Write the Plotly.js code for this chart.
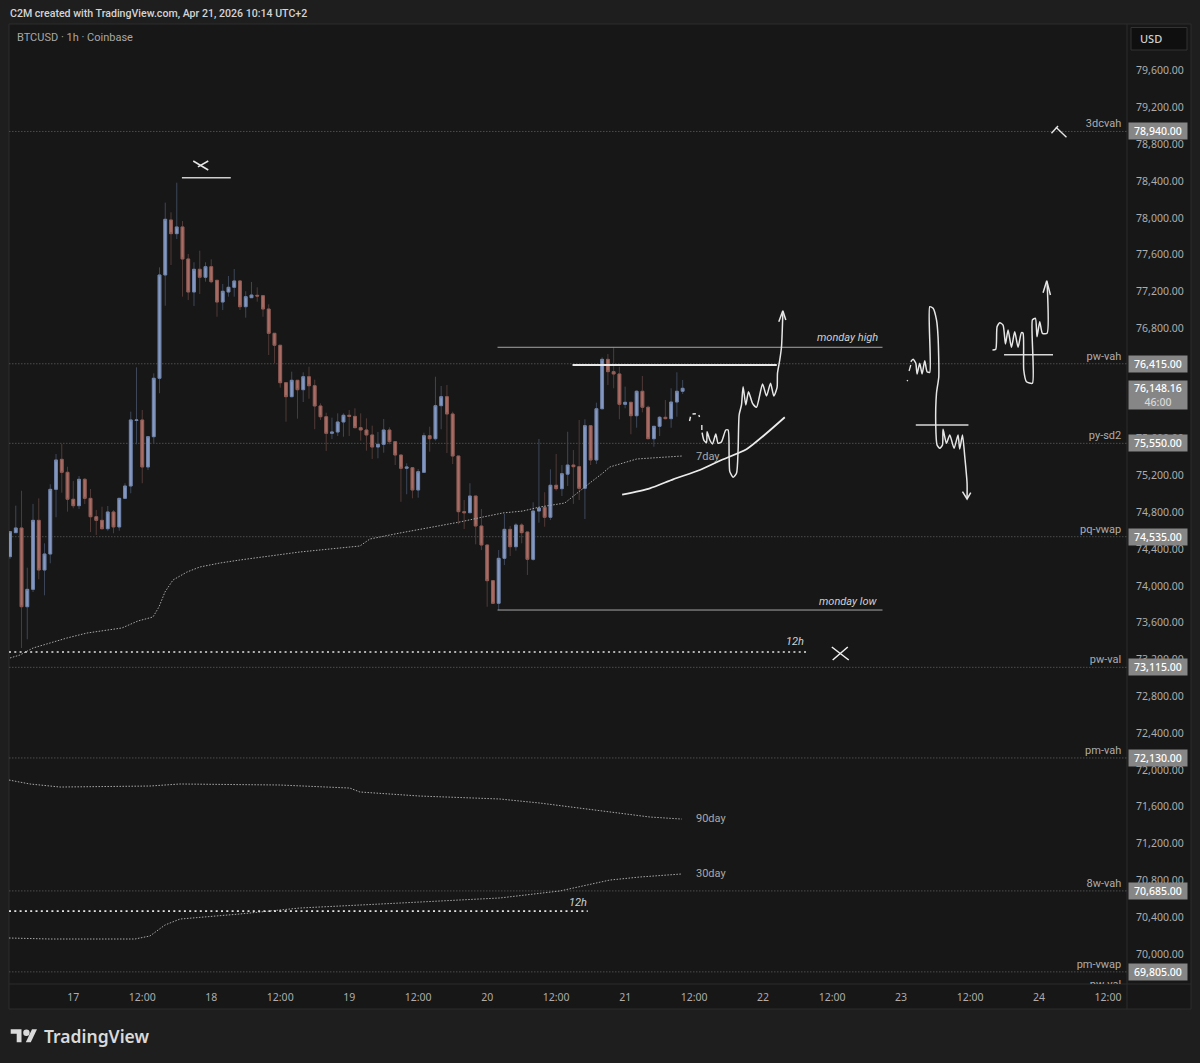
<!DOCTYPE html>
<html>
<head>
<meta charset="utf-8">
<script src="https://cdn.plot.ly/plotly-3.0.1.min.js"></script>
<style>html,body{margin:0;padding:0;background:#1e1e1e;overflow:hidden}#chart{width:1200px;height:1063px}</style>
</head>
<body>
<div id="chart"></div>
<script>
// ---------- candles (hourly, BTCUSD) ----------
const firstCandleHour = -11; // hours from Apr 17 00:00
const opens = [74318,74579,74630,73774,73963,74713,74173,74347,75050,75376,75235,74942,74872,75159,74952,74752,74713,74622,74804,74641,74952,75086,75798,75804,75293,75622,76257,77380,77978,77829,77902,77554,77195,77442,77355,77470,77322,77086,77195,77246,77315,77035,77133,77159,77155,77010,76746,76616,76209,76057,76235,76133,76274,76176,75956,75839,75659,75673,75782,75855,75843,75720,75695,75641,75510,75539,75695,75568,75423,75279,75285,75043,75235,75633,75600,75959,76057,75869,75412,74807,74796,74977,74651,74445,74057,73811,74300,74615,74426,74662,74586,74289,74814,74855,74746,75094,75057,75215,75314,75296,75061,75742,75369,75926,76463,76329,76304,75974,75996,75850,76116,75942,75600,75735,75833,75818,75999,76116];
const highs = [74590,74872,75035,74198,74891,74952,74463,75105,75434,75543,75296,75141,75195,75173,75054,74825,74861,74869,74825,74952,75116,75894,76376,75912,75630,76311,77463,78166,78061,78383,77967,77608,77518,77644,77518,77550,77322,77282,77369,77445,77325,77203,77304,77246,77155,77061,76746,76616,76209,76329,76235,76322,76383,76242,75985,75883,75829,75876,75876,75912,75931,75876,75822,75742,75673,75814,75724,75568,75423,75333,75290,75271,75666,75731,76274,76173,76184,75894,75412,74934,75116,74977,74836,74445,74057,74390,74782,74651,74681,74681,74586,74909,75597,75018,75268,75434,75314,75676,75477,75804,75811,75742,75992,76485,76521,76594,76383,76166,75996,76125,76282,75959,75735,75847,76021,76148,76322,76238];
const lows = [74293,74579,73325,73420,73934,74072,73898,74246,74746,75013,74807,74844,74836,74891,74586,74554,74615,74600,74572,74600,74945,75007,75539,75116,75260,75550,76094,77046,77488,77771,77144,77108,77043,77173,77307,77290,76926,76999,77144,77144,76999,76916,77133,77090,76926,76510,76420,76155,75785,76050,75818,75999,76035,75703,75804,75467,75597,75630,75622,75630,75715,75579,75470,75380,75387,75448,75539,75314,74915,74996,74952,74959,75230,75459,75579,75703,75445,75325,74670,74619,74790,74452,74390,73774,73811,73738,74227,74325,74383,74463,74119,74274,74687,74644,74717,75035,74977,75086,74891,74934,74727,75314,75325,75920,76184,76148,75811,75931,75648,75720,75887,75600,75513,75630,75811,75720,75839,76086];
const closes = [74590,74630,73774,73963,74713,74173,74347,75050,75369,75235,74942,74872,75159,74952,74752,74713,74622,74804,74641,74952,75086,75804,75804,75293,75622,76257,77380,77985,77829,77902,77554,77195,77442,77355,77470,77307,77086,77203,77246,77315,77035,77144,77162,77151,77010,76746,76616,76209,76057,76235,76133,76274,76176,75956,75839,75659,75673,75782,75855,75843,75720,75695,75641,75510,75539,75695,75568,75423,75279,75293,75043,75242,75633,75600,75959,76057,75869,75412,74807,74796,74977,74651,74445,74057,73811,74300,74615,74426,74662,74579,74289,74814,74847,74746,75094,75057,75220,75314,75296,75061,75742,75369,75926,76463,76329,76304,75974,75996,75850,76116,75942,75600,75735,75833,75818,75999,76116,76148];

// ---------- anchored VWAP lines ----------
const vwap7Hours = [-11,-9.27,-7,-4.05,-1.1,2.38,5.86,8.47,11.25,13.86,14.9,15.95,17.34,19.77,22.03,25.51,28.99,39.43,49.86,51.6,56.8,63.77,67.25,71.25,74.73,78.2,81.17,85.5,87.6,89.86,92.12,93.34,98.03,105.86];
const vwap7Prices = [73217,73249,73325,73380,73434,73488,73521,73543,73619,73662,73771,73934,74064,74151,74206,74249,74282,74369,74434,74510,74575,74651,74695,74749,74793,74814,74858,74901,75010,75119,75227,75293,75380,75412];
const vwap90Hours = [-11.18,-7.53,-2.3,13.34,18.56,35.95,48.1,49.86,60.3,74.2,81.17,91.6,100.3,105.86];
const vwap90Prices = [71890,71847,71814,71825,71847,71836,71803,71760,71716,71684,71640,71553,71488,71466];
const vwap30Hours = [-11.18,-4.05,10.73,13.34,15.95,18.56,28.99,39.43,56.8,74.2,84.63,93.34,98.56,105.86];
const vwap30Prices = [70173,70162,70162,70195,70314,70379,70434,70499,70553,70608,70684,70803,70836,70869];

// ---------- named levels ----------
const levelPrices = [78940,76415,75550,74535,73115,72130,70685,69805];
const levelNames = ['3dcvah','pw-vah','py-sd2','pq-vwap','pw-val','pm-vah','8w-vah','pm-vwap'];
const offscreenLevelPrice = 69590, offscreenLevelName = 'pw-val';
const levelTags = ['78,940.00','76,415.00','75,550.00','74,535.00','73,115.00','72,130.00','70,685.00','69,805.00'];
const lastPrice = 76148.16, lastPriceText = '76,148.16', countdownText = '46:00';

// ---------- axes ----------
const priceTicks = [70000,70400,70800,71200,71600,72000,72400,72800,73200,73600,74000,74400,74800,75200,75600,76000,76400,76800,77200,77600,78000,78400,78800,79200,79600];
const timeTickHours = [0,12,24,36,48,60,72,84,96,108,120,132,144,156,168,180];
const timeTickLabels = ['17','12:00','18','12:00','19','12:00','20','12:00','21','12:00','22','12:00','23','12:00','24','12:00'];

// ---------- drawn lines (hours from Apr 17 00:00, price) ----------
const mondayHighHours = [73.8,140.77], mondayHighPrices = [76594,76594];
const mondayLowHours = [73.8,140.77], mondayLowPrices = [73738,73738];
const resistHours = [86.85,122.38], resistPrices = [76401,76401];
const topCapHours = [18.9,27.4], topCapPrices = [78437,78437];
const dotted12hAHours = [-11.18,127.5], dotted12hAPrices = [73282,73282];
const dotted12hBHours = [-11.18,89.5], dotted12hBPrices = [70466,70466];

const trendHours = [95.48,100.3,104.35,108.99,112.47,117.11,120.59,123.77];
const trendPrices = [74992,75061,75159,75260,75361,75485,75659,75833];
const pathAHours = [109.39,109.69,110.16,110.26,110.73,111.2,111.77,112.17,112.77,113.51,113.91,114.09,114.21,114.78,115.37,115.65,115.83,116.24,116.52,116.99,117.46,118.16,118.85,119.9,120.59,121.29,121.86,122.43,122.5,122.9,123.2,123.43];
const pathAPrices = [75666,75586,75557,75677,75586,75543,75651,75550,75568,75695,75695,75405,75242,75181,75224,75477,75858,75967,76166,75967,76111,75985,75942,76195,76064,76203,76064,76159,76311,76456,76600,76963];
const arrowAHours = [122.73,123.43,123.95], arrowAPrices = [76872,76992,76891];
const dashAHours = [107.2,107.37,null,107.72,108.3,null,108.82,108.94,null,109.34,109.34];
const dashAPrices = [75793,75839,null,75869,75872,null,75858,75836,null,75749,75695];

const pathBHours = [145.69,146.09,146.56,146.78,147.25,147.65,148.12,148.52,148.99,148.99,149.57,150.16,150.43,150.56,150.16,150.03,150.26,150.73,151.2,151.3,151.89,152.47,153.22,153.91,154.2,154.68,155.08,155.48,155.48];
const pathBPrices = [76437,76463,76420,76304,76420,76304,76448,76329,76322,77035,77018,76891,76709,76274,76094,75749,75532,75496,75532,75703,75550,75641,75496,75641,75488,75641,75405,75115,74952];
const arrowBHours = [154.68,155.48,156.12], arrowBPrices = [75024,74945,75013];
const dashBHours = [145.04,145.16,null,145.39,145.69], dashBPrices = [76238,76227,null,76336,76401];
const crossBHours = [146.56,155.72], crossBPrices = [75749,75749];

const pathCHours = [159.9,160.47,160.7,161.17,161.74,162.16,162.61,163.2,163.77,164.35,164.94,165.22,165.34,165.81,166.85,166.85,167.37,167.65,168.12,168.59,169.39,169.39];
const pathCPrices = [76564,76572,76818,76861,76836,76630,76782,76594,76763,76594,76753,76746,76347,76220,76203,76891,76909,76709,76872,76746,76746,77307];
const arrowCHours = [168.7,169.34,169.98], arrowCPrices = [77187,77318,77162];
const crossCHours = [161.91,170.43], crossCPrices = [76513,76513];

const xMarkHours = [131.95,134.9,null,132.1,134.73], xMarkPrices = [73336,73195,null,73195,73336];
const topXHours = [20.87,23.48,null,21.69,23.48], topXPrices = [78619,78521,null,78554,78619];
const rightMarkAHours = [170.16,171.3], rightMarkAPrices = [78920,78999];
const rightMarkBHours = [170.95,172.77], rightMarkBPrices = [78985,78877];

const chartTexts = [
  {text:'monday high', h:140.2, p:76695, anchor:'right', italic:true},
  {text:'monday low', h:140.2, p:73836, anchor:'right', italic:true},
  {text:'12h', h:125.5, p:73401, anchor:'center', italic:true},
  {text:'12h', h:87.8, p:70564, anchor:'center', italic:true},
  {text:'7day', h:108.2, p:75412, anchor:'left'},
  {text:'90day', h:108.2, p:71477, anchor:'left'},
  {text:'30day', h:108.2, p:70869, anchor:'left'}
];

// ---------- frame geometry and styles ----------
const W = 1200, H = 1063, L = 9, R = 1127, T = 24, B = 984;
const FONT = '"Noto Sans", sans-serif';
const FONT2 = 'Roboto, sans-serif';
const BG_PAGE = '#1e1e1e', BG_CHART = '#171717', BORDER = '#2d2d2d';
const px = x => (x - L) / (R - L);
const py = y => (B - y) / (B - T);
const base = Date.UTC(2026, 3, 17);
const t = h => h === null ? null : base + h * 3600000;
const times = hs => hs.map(t);

const candleTimes = opens.map((_, i) => t(firstCandleHour + i));
const traces = [];

function stroke(hs, ps, width, color, dash, shape) {
  traces.push({type:'scatter', mode:'lines', x:times(hs), y:ps, hoverinfo:'skip',
    line:{color:color||'#e6e6e6', width:width||1.5, dash:dash||'solid', shape:shape||'linear', smoothing:0.6}});
}

// wicks
traces.push({type:'candlestick', x:candleTimes, open:opens, high:highs, low:lows, close:closes, hoverinfo:'skip', whiskerwidth:0,
  increasing:{line:{color:'#3d4759', width:1}, fillcolor:'#3d4759'},
  decreasing:{line:{color:'#503a37', width:1}, fillcolor:'#503a37'}});
// bodies
traces.push({type:'candlestick', x:candleTimes, open:opens, close:closes,
  high:opens.map((o,i)=>Math.max(o,closes[i])), low:opens.map((o,i)=>Math.min(o,closes[i])), hoverinfo:'skip', whiskerwidth:0,
  increasing:{line:{color:'#6f82a8', width:1}, fillcolor:'#8599c2'},
  decreasing:{line:{color:'#8f5b54', width:1}, fillcolor:'#a96d65'}});

stroke(vwap7Hours, vwap7Prices, 1, '#a8a8a8', '1.5px,1.5px');
stroke(vwap90Hours, vwap90Prices, 1, '#a8a8a8', '1.5px,1.5px');
stroke(vwap30Hours, vwap30Prices, 1, '#a8a8a8', '1.5px,1.5px');

stroke(dotted12hAHours, dotted12hAPrices, 1.7, '#e4e4e4', '2px,3.3px');
stroke(dotted12hBHours, dotted12hBPrices, 1.7, '#e4e4e4', '2px,3.3px');

stroke(mondayHighHours, mondayHighPrices, 1, '#a6a6a6');
stroke(mondayLowHours, mondayLowPrices, 1, '#a6a6a6');
stroke(resistHours, resistPrices, 2, '#e8e8e8');
stroke(topCapHours, topCapPrices, 1.6, '#cfcfcf');
stroke(crossBHours, crossBPrices, 1.3, '#d8d8d8');
stroke(crossCHours, crossCPrices, 1.3, '#d8d8d8');

stroke(trendHours, trendPrices, 1.8, '#ebebeb', 'solid', 'spline');
stroke(pathAHours, pathAPrices, 1.5, '#e6e6e6', 'solid', 'spline');
stroke(arrowAHours, arrowAPrices, 1.5);
stroke(dashAHours, dashAPrices, 1.4);
stroke(pathBHours, pathBPrices, 1.5, '#e6e6e6', 'solid', 'spline');
stroke(arrowBHours, arrowBPrices, 1.5);
stroke(dashBHours, dashBPrices, 1.3);
stroke(pathCHours, pathCPrices, 1.5, '#e6e6e6', 'solid', 'spline');
stroke(arrowCHours, arrowCPrices, 1.5);
stroke(xMarkHours, xMarkPrices, 1.5, '#f0f0f0');
stroke(topXHours, topXPrices, 1.5, '#e6e6e6');
stroke(rightMarkAHours, rightMarkAPrices, 1.4, '#e6e6e6');
stroke(rightMarkBHours, rightMarkBPrices, 1.4, '#e6e6e6');

// level names (clipped by the plot area, as in the reference)
const levelLabelHour = 182.3;
const levelLabelLift = 15;
traces.push({type:'scatter', mode:'text', x:levelPrices.concat(offscreenLevelPrice).map(()=>t(levelLabelHour)),
  y:levelPrices.concat(offscreenLevelPrice).map(p=>p+levelLabelLift), text:levelNames.concat(offscreenLevelName),
  textposition:'top left', cliponaxis:true, hoverinfo:'skip', textfont:{family:FONT2, size:11, color:'#adadad'}});

// ---------- shapes ----------
const shapes = [
  // axis strips
  {type:'rect', xref:'paper', yref:'paper', x0:px(R), x1:px(1191), y0:py(T), y1:py(1009), fillcolor:BG_CHART, line:{width:0}, layer:'below'},
  {type:'rect', xref:'paper', yref:'paper', x0:px(L), x1:px(1191), y0:py(B), y1:py(1009), fillcolor:BG_CHART, line:{width:0}, layer:'below'},
  // frame and dividers
  {type:'rect', xref:'paper', yref:'paper', x0:px(L), x1:px(1191), y0:py(T), y1:py(1009), line:{color:BORDER, width:1}, layer:'below'},
  {type:'line', xref:'paper', yref:'paper', x0:px(R), x1:px(R), y0:py(T), y1:py(1009), line:{color:BORDER, width:1}, layer:'below'},
  {type:'line', xref:'paper', yref:'paper', x0:px(L), x1:px(1191), y0:py(B), y1:py(B), line:{color:BORDER, width:1}, layer:'below'},
  // USD box
  {type:'rect', xref:'paper', yref:'paper', x0:px(1131), x1:px(1187), y0:py(27.5), y1:py(50), fillcolor:'#0f0f0f', line:{color:'#333333', width:1}, layer:'above'},
  // TradingView logo
  {type:'path', xref:'paper', yref:'paper', fillcolor:'#dadada', line:{width:0}, layer:'above',
   path:`M ${px(10.7)} ${py(1029.3)} L ${px(21.5)} ${py(1029.3)} L ${px(21.5)} ${py(1042.3)} L ${px(16.7)} ${py(1042.3)} L ${px(16.7)} ${py(1033.8)} L ${px(10.7)} ${py(1033.8)} Z`},
  {type:'circle', xref:'paper', yref:'paper', fillcolor:'#dadada', line:{width:0}, layer:'above',
   x0:px(23.2), x1:px(29.6), y0:py(1029.6), y1:py(1036)},
  {type:'path', xref:'paper', yref:'paper', fillcolor:'#dadada', line:{width:0}, layer:'above',
   path:`M ${px(32)} ${py(1029.3)} L ${px(37)} ${py(1029.3)} L ${px(30.8)} ${py(1042.3)} L ${px(25.8)} ${py(1042.3)} Z`}
];
levelPrices.forEach(p => shapes.push({type:'line', xref:'paper', yref:'y', x0:0, x1:1, y0:p, y1:p, layer:'below',
  line:{color:'#4d4d4d', width:1, dash:'1.5px,1.5px'}}));

// ---------- annotations ----------
const annotations = [];
function pageText(text, x, y, size, color, weight, family) {
  annotations.push({xref:'paper', yref:'paper', x:px(x), y:py(y), text, showarrow:false, xanchor:'left', yanchor:'middle',
    font:{family:family||FONT, size, color, weight:weight||400}, borderpad:0, align:'left'});
}
pageText('C2M created with TradingView.com, Apr 21, 2026 10:14 UTC+2', 9, 13.5, 10.6, '#d4d4d4', 500, FONT2);
pageText('BTCUSD · 1h · Coinbase', 15.5, 37.5, 11, '#a8a8a8', 400, FONT2);
pageText('USD', 1139, 38.5, 11, '#d0d0d0', 500);
pageText('TradingView', 43, 1036, 17.5, '#dadada', 600);

chartTexts.forEach(c => annotations.push({xref:'x', yref:'y', x:t(c.h), y:c.p, text:c.italic?`<i>${c.text}</i>`:c.text, showarrow:false,
  xanchor:c.anchor, yanchor:'middle', borderpad:0, font:{family:FONT2, size:11, color:c.italic?'#d0d0d0':'#a8a8a8'}}));

levelPrices.forEach((p,i) => annotations.push({xref:'paper', yref:'y', x:px(1128), y:p, xanchor:'left', yanchor:'middle',
  text:levelTags[i], showarrow:false, width:58, height:16, align:'center', valign:'middle', borderpad:0, bgcolor:'#868686',
  font:{family:FONT, size:10.5, color:'#ffffff', weight:500}}));
annotations.push({xref:'paper', yref:'y', x:px(1128), y:lastPrice, yshift:8, xanchor:'left', yanchor:'top',
  text:`${lastPriceText}<br><span style="color:#d8d8d8">${countdownText}</span>`, showarrow:false, width:58, height:28, align:'center', valign:'middle',
  borderpad:0, bgcolor:'#868686', font:{family:FONT, size:10.5, color:'#ffffff', weight:500}});

// ---------- layout ----------
const layout = {
  width:W, height:H, showlegend:false, paper_bgcolor:BG_PAGE, plot_bgcolor:BG_CHART,
  margin:{l:L, r:W-R, t:T, b:H-B, pad:0}, dragmode:false, hovermode:false,
  xaxis:{type:'date', range:[t(-11.18), t(183.3)], rangeslider:{visible:false}, showgrid:false, zeroline:false, showline:false,
    tickmode:'array', tickvals:timeTickHours.map(t), ticktext:timeTickLabels, ticks:'outside', ticklen:3, tickcolor:'rgba(0,0,0,0)',
    tickfont:{family:FONT, size:10.5, color:'#adadad'}, automargin:false},
  yaxis:{side:'right', range:[69673, 80108], showgrid:false, zeroline:false, showline:false,
    tickmode:'array', tickvals:priceTicks, tickformat:',.2f', ticks:'outside', ticklen:6, tickcolor:'rgba(0,0,0,0)',
    tickfont:{family:FONT, size:10.5, color:'#adadad'}, automargin:false},
  shapes, annotations
};

Plotly.newPlot('chart', traces, layout, {staticPlot:true, displayModeBar:false});
</script>
</body>
</html>
